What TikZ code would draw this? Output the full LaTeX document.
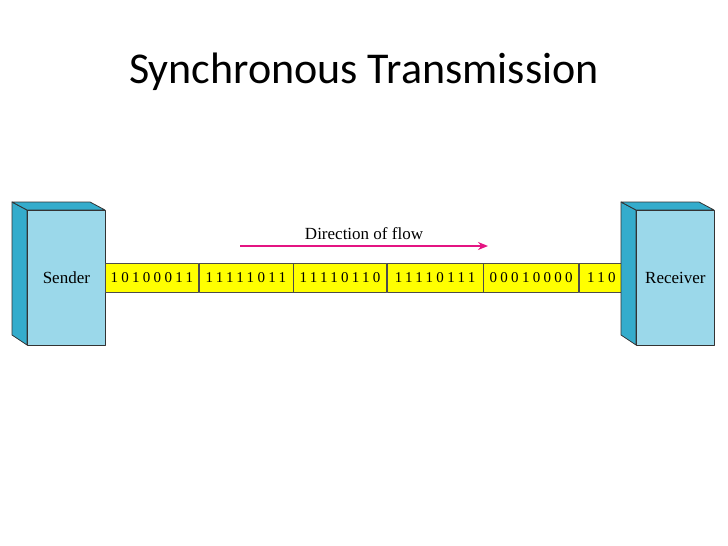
\documentclass[tikz,border=0pt]{standalone}
\usetikzlibrary{arrows.meta}
\usepackage{fontspec}
\setmainfont{Liberation Serif}
\newfontfamily\titlefont{Carlito}
\newfontfamily\bitsfont[LetterSpace=22]{Liberation Serif}
\definecolor{facec}{RGB}{155,216,234}
\definecolor{sidec}{RGB}{52,172,204}
\definecolor{flow}{RGB}{228,20,130}
\definecolor{bar}{RGB}{255,255,0}
\begin{document}
\begin{tikzpicture}[x=1pt,y=-1pt,line join=round,
  face/.style={draw=black!80,fill=facec,line width=0.8pt},
  side/.style={draw=black!80,fill=sidec,line width=0.8pt},
  cell/.style={draw=black!70,fill=bar,line width=0.6pt,minimum height=29pt,inner sep=0pt,font=\bitsfont\fontsize{15}{17}\selectfont,anchor=west}]
\useasboundingbox (0,0) rectangle (728,546);
\node[font=\titlefont\fontsize{44}{50}\selectfont] (title) at (364,72) {Synchronous Transmission};
% sender
\draw[side] (12,202) -- (27,210) -- (27,345) -- (12,335) -- cycle;
\draw[side] (12,202) -- (90,202) -- (105,210) -- (27,210) -- cycle;
\node[face,minimum width=78pt,minimum height=135pt,inner sep=0pt,anchor=north west,font=\fontsize{17}{19}\selectfont] (sender) at (27,210) {Sender};
% bar
\node[cell,minimum width=93pt] (c1) at (105,277.5) {10100011};
\node[cell,minimum width=94pt] (c2) at (c1.east) {11111011};
\node[cell,minimum width=93pt] (c3) at (c2.east) {11110110};
\node[cell,minimum width=96pt] (c4) at (c3.east) {11110111};
\node[cell,minimum width=95pt] (c5) at (c4.east) {00010000};
\node[cell,minimum width=44pt] (c6) at (c5.east) {110};
% receiver
\draw[side] (621,202) -- (636,210) -- (636,345) -- (621,335) -- cycle;
\draw[side] (621,202) -- (699,202) -- (714,210) -- (636,210) -- cycle;
\node[face,minimum width=78pt,minimum height=135pt,inner sep=0pt,anchor=north west,font=\fontsize{17}{19}\selectfont] (receiver) at (636,210) {Receiver};
% arrow
\coordinate (a1) at (240,246);
\coordinate (a2) at (488,246);
\draw[flow,line width=2pt,-{Stealth[length=10pt,width=8pt]}] (a1) -- (a2);
\node[font=\fontsize{17}{19}\selectfont] (lbl) at (364,234) {Direction of flow};
\end{tikzpicture}
\end{document}
